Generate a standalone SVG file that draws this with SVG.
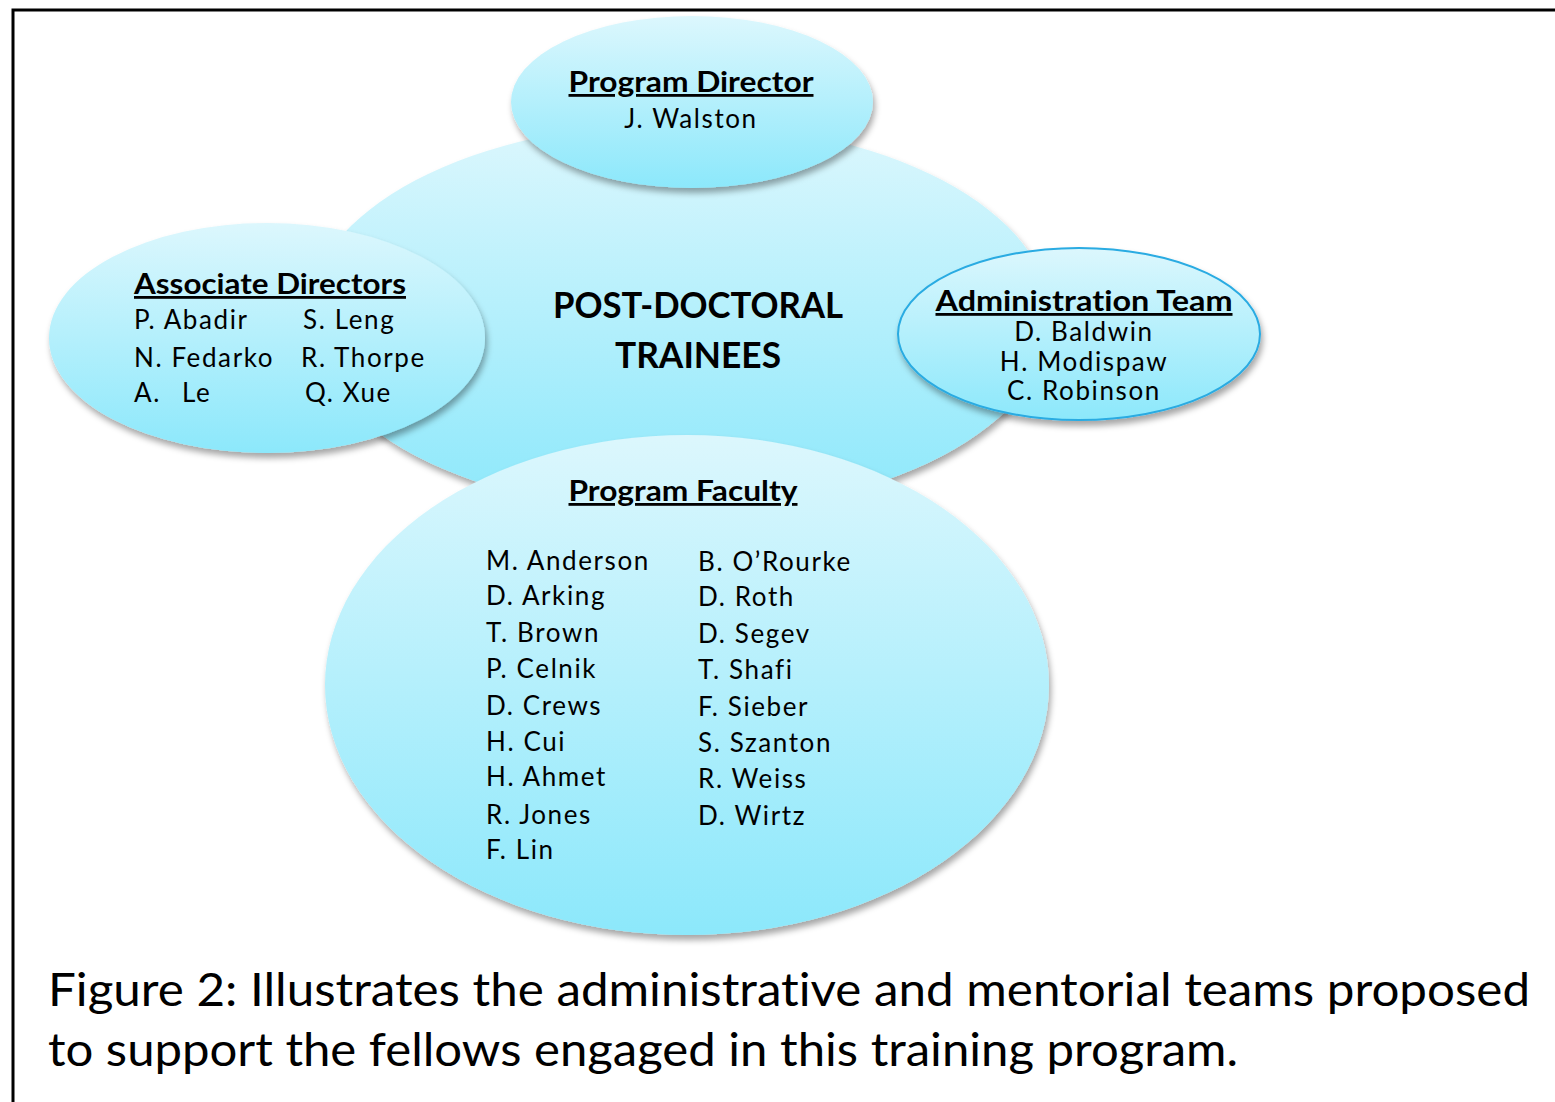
<svg xmlns="http://www.w3.org/2000/svg" width="1555" height="1102" viewBox="0 0 1555 1102">
<defs>
<linearGradient id="g" x1="0" y1="0" x2="0" y2="1">
<stop offset="0" stop-color="#dcf7fd"/>
<stop offset="1" stop-color="#8ce8fb"/>
</linearGradient>
<filter id="sh" x="-10%" y="-10%" width="125%" height="130%">
<feDropShadow dx="2" dy="5" stdDeviation="3" flood-color="#000" flood-opacity="0.35"/>
</filter>
<style>
.n{fill:url(#g);filter:url(#sh)}
.t{font-family:Lato,"Liberation Sans",sans-serif;fill:#000;font-variant-ligatures:none}
.h{font-weight:bold;text-decoration:underline;font-size:28px}
.m{font-size:26px;letter-spacing:1.6px}
.c{text-anchor:middle}
</style>
</defs>
<rect x="0" y="0" width="1555" height="1102" fill="#fff"/>
<path d="M13,1102 V10 H1555" fill="none" stroke="#000" stroke-width="3"/>
<g id="connectors"></g>
<g id="trainees">
<ellipse class="n" cx="679" cy="318" rx="372" ry="195"/>
<text class="t c" x="698" y="318" font-size="36" font-weight="bold" textLength="290" lengthAdjust="spacingAndGlyphs">POST-DOCTORAL</text>
<text class="t c" x="698" y="368" font-size="36" font-weight="bold" textLength="166" lengthAdjust="spacingAndGlyphs">TRAINEES</text>
</g>
<g id="director">
<ellipse class="n" cx="692" cy="102" rx="181" ry="86"/>
<text class="t h c" x="691" y="92" textLength="245" lengthAdjust="spacingAndGlyphs">Program Director</text>
<text class="t m c" x="691" y="128">J. Walston</text>
</g>
<g id="associate">
<ellipse class="n" cx="267" cy="338" rx="218" ry="115"/>
<text class="t h" x="134" y="294" textLength="272" lengthAdjust="spacingAndGlyphs">Associate Directors</text>
<text class="t m" x="134" y="329">P. Abadir</text>
<text class="t m" x="303" y="329">S. Leng</text>
<text class="t m" x="134" y="367">N. Fedarko</text>
<text class="t m" x="301" y="367">R. Thorpe</text>
<text class="t m" x="134" y="402">A.</text>
<text class="t m" x="182" y="402">Le</text>
<text class="t m" x="305" y="402">Q. Xue</text>
</g>
<g id="admin">
<ellipse class="n" cx="1079" cy="334" rx="181" ry="86" stroke="#29abe2" stroke-width="2"/>
<text class="t h c" x="1084" y="311" textLength="297" lengthAdjust="spacingAndGlyphs">Administration Team</text>
<text class="t m c" x="1084" y="341">D. Baldwin</text>
<text class="t m c" x="1084" y="371">H. Modispaw</text>
<text class="t m c" x="1084" y="400">C. Robinson</text>
</g>
<g id="faculty">
<ellipse class="n" cx="687" cy="685" rx="362" ry="250"/>
<text class="t h c" x="683" y="501" textLength="229" lengthAdjust="spacingAndGlyphs">Program Faculty</text>
<text class="t m" x="486" y="570">M. Anderson</text>
<text class="t m" x="486" y="605">D. Arking</text>
<text class="t m" x="486" y="642">T. Brown</text>
<text class="t m" x="486" y="678">P. Celnik</text>
<text class="t m" x="486" y="715">D. Crews</text>
<text class="t m" x="486" y="751">H. Cui</text>
<text class="t m" x="486" y="786">H. Ahmet</text>
<text class="t m" x="486" y="824">R. Jones</text>
<text class="t m" x="486" y="859">F. Lin</text>
<text class="t m" x="698" y="571">B. O’Rourke</text>
<text class="t m" x="698" y="606">D. Roth</text>
<text class="t m" x="698" y="643">D. Segev</text>
<text class="t m" x="698" y="679">T. Shafi</text>
<text class="t m" x="698" y="716">F. Sieber</text>
<text class="t m" x="698" y="752">S. Szanton</text>
<text class="t m" x="698" y="788">R. Weiss</text>
<text class="t m" x="698" y="825">D. Wirtz</text>
</g>
<g id="caption">
<text class="t" x="48" y="1006" font-size="46" textLength="1482" lengthAdjust="spacingAndGlyphs">Figure 2: Illustrates the administrative and mentorial teams proposed</text>
<text class="t" x="48" y="1066" font-size="46" textLength="1190" lengthAdjust="spacingAndGlyphs">to support the fellows engaged in this training program.</text>
</g>
</svg>
